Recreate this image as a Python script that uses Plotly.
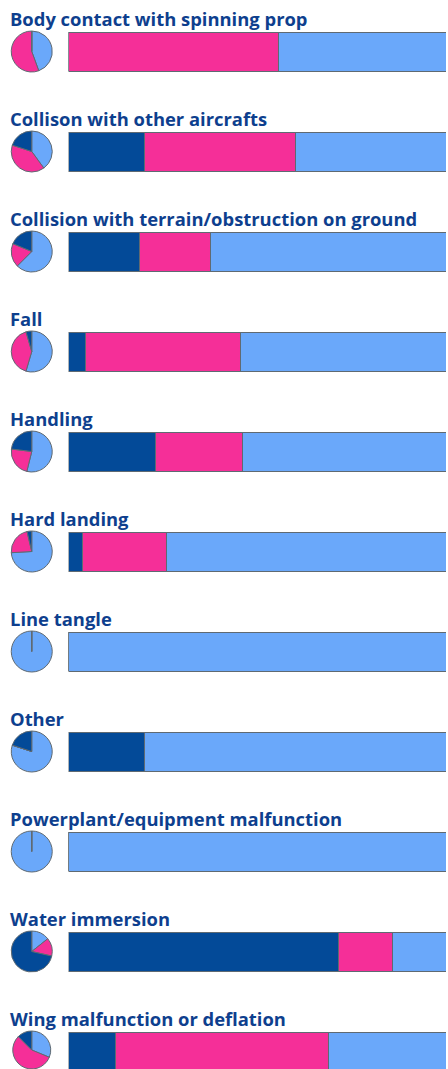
import plotly.graph_objects as go

categories = [
    "Body contact with spinning prop",
    "Collison with other aircrafts",
    "Collision with terrain/obstruction on ground",
    "Fall",
    "Handling",
    "Hard landing",
    "Line tangle",
    "Other",
    "Powerplant/equipment malfunction",
    "Water immersion",
    "Wing malfunction or deflation",
]
dark_vals = [0, 1, 3, 1, 3, 1, 0, 1, 0, 5, 2]
pink_vals = [5, 2, 3, 9, 3, 6, 0, 0, 0, 1, 9]
light_vals = [4, 2, 10, 12, 7, 20, 1, 4, 1, 1, 5]

DARK = "#034A98"
PINK = "#F52F98"
LIGHT = "#6AA8FA"
TITLE = "#0E3F8E"
OUTLINE = "#5f6a72"

W, H = 448, 1069
ROW = 100.0
BAR_CENTER0 = 51.5
rows = list(range(len(categories)))

fig = go.Figure()
for name, vals, col in [("dark", dark_vals, DARK), ("pink", pink_vals, PINK), ("light", light_vals, LIGHT)]:
    fig.add_trace(go.Bar(
        y=rows, x=vals, orientation="h", name=name,
        marker=dict(color=col, line=dict(color=OUTLINE, width=1)),
        width=0.39, hoverinfo="skip", showlegend=False,
    ))

for i in rows:
    cy = BAR_CENTER0 + ROW * i
    top = cy - 20.5
    bot = cy + 20.5
    # clockwise from 12 o'clock: light, pink, dark
    fig.add_trace(go.Pie(
        values=[light_vals[i], pink_vals[i], dark_vals[i]],
        labels=["light", "pink", "dark"],
        marker=dict(colors=[LIGHT, PINK, DARK], line=dict(color=OUTLINE, width=1)),
        sort=False, direction="clockwise", rotation=0,
        textinfo="none", hoverinfo="skip", showlegend=False,
        domain=dict(x=[11 / W, 52.5 / W], y=[max(0, 1 - bot / H), 1 - top / H]),
    ))
    fig.add_annotation(
        text="<b>%s</b>" % categories[i], xref="paper", yref="y",
        x=8 / W, y=i - 0.33, xanchor="left", yanchor="middle",
        showarrow=False, font=dict(family="Open Sans", size=18.4, color=TITLE),
    )

y_top = -BAR_CENTER0 / ROW
y_bot = (H - BAR_CENTER0) / ROW
fig.update_layout(
    width=W, height=H, margin=dict(l=0, r=0, t=0, b=0),
    barmode="stack", barnorm="percent",
    paper_bgcolor="white", plot_bgcolor="white",
    xaxis=dict(domain=[68.5 / W, 446 / W], range=[0, 100], visible=False, fixedrange=True),
    yaxis=dict(domain=[0, 1], range=[y_bot, y_top], visible=False, fixedrange=True),
)
fig.write_html("out.html", config={"displayModeBar": False})
